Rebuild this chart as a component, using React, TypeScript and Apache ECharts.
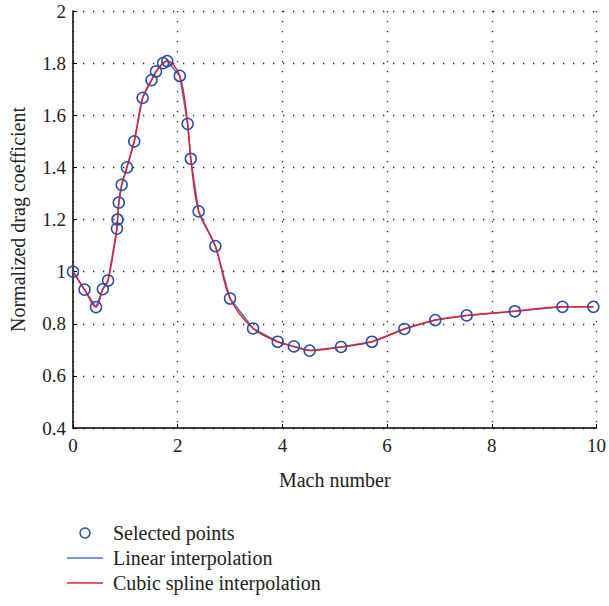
import React, { useEffect, useRef } from "react";
import * as echarts from "echarts";

const machNumbers = [
  0, 0.22, 0.44, 0.57, 0.67, 0.84, 0.85, 0.875, 0.93, 1.03, 1.17, 1.33, 1.5, 1.585,
  1.72, 1.8, 2.04, 2.19, 2.25, 2.4, 2.72, 3.0, 3.44, 3.91, 4.22, 4.52, 5.12, 5.71,
  6.33, 6.92, 7.52, 8.44, 9.35, 9.94,
];
const dragValues = [
  1.0, 0.931, 0.864, 0.933, 0.966, 1.165, 1.2, 1.265, 1.333, 1.4, 1.5, 1.667, 1.735, 1.768,
  1.8, 1.808, 1.751, 1.567, 1.433, 1.231, 1.098, 0.897, 0.782, 0.731, 0.713, 0.697, 0.711, 0.731,
  0.78, 0.814, 0.832, 0.848, 0.865, 0.865,
];
const xTicks = [0, 2, 4, 6, 8, 10];
const yTicks = [0.4, 0.6, 0.8, 1, 1.2, 1.4, 1.6, 1.8, 2];

const FONT = "'Liberation Serif', 'DejaVu Serif', serif";
const BLUE = "#2a4ea8";
const LINE_BLUE = "#4a70c4";
const RED = "#e3202b";

export default function App() {
  const ref = useRef<HTMLDivElement>(null);
  useEffect(() => {
    if (!ref.current) return;
    const chart = echarts.init(ref.current, null, { renderer: "svg" });
    const pts = machNumbers.map((x, i) => [x, dragValues[i]]);
    const dotted = { color: "#222", width: 1.3, type: [1.3, 8.7] as number[] };
    const lineIcon = "path://M0,0 L36,0 L36,1.6 L0,1.6 Z";
    chart.setOption({
      animation: false,
      backgroundColor: "#fff",
      grid: { left: 69, right: 9, top: 11, bottom: 178, containLabel: false },
      xAxis: {
        type: "value",
        min: xTicks[0],
        max: xTicks[xTicks.length - 1],
        interval: 2,
        name: "Mach number",
        nameLocation: "middle",
        nameGap: 42,
        nameTextStyle: { fontFamily: FONT, fontSize: 20, color: "#222" },
        axisLine: { show: true, lineStyle: { color: "#000", width: 1.5 } },
        axisTick: { show: true, inside: true, length: 4, lineStyle: { color: "#000" } },
        axisLabel: { fontFamily: FONT, fontSize: 19, color: "#222", margin: 8 },
        splitLine: { show: true, lineStyle: dotted },
      },
      yAxis: {
        type: "value",
        min: yTicks[0],
        max: yTicks[yTicks.length - 1],
        interval: 0.2,
        name: "Normalized drag coefficient",
        nameLocation: "middle",
        nameGap: 45,
        nameTextStyle: { fontFamily: FONT, fontSize: 20, color: "#222" },
        axisLine: { show: true, lineStyle: { color: "#000", width: 1.5 } },
        axisTick: { show: true, inside: true, length: 4, lineStyle: { color: "#000" } },
        axisLabel: {
          fontFamily: FONT,
          fontSize: 19,
          color: "#222",
          margin: 7,
          formatter: (v: number) => String(Math.round(v * 10) / 10),
        },
        splitLine: { show: true, lineStyle: dotted },
      },
      legend: {
        orient: "vertical",
        left: 62,
        top: 518,
        itemGap: 5,
        itemWidth: 36,
        itemHeight: 10,
        textStyle: { fontFamily: FONT, fontSize: 20, color: "#222", padding: [0, 0, 0, 5] },
        data: [
          {
            name: "Selected points",
            icon: "circle",
            itemStyle: { color: "rgba(0,0,0,0)", borderColor: BLUE, borderWidth: 1.5 },
          },
          { name: "Linear interpolation", icon: lineIcon, itemStyle: { color: LINE_BLUE } },
          { name: "Cubic spline interpolation", icon: lineIcon, itemStyle: { color: RED } },
        ],
      },
      series: [
        {
          name: "Linear interpolation",
          type: "line",
          data: pts,
          symbol: "none",
          lineStyle: { color: LINE_BLUE, width: 1.5 },
          itemStyle: { color: LINE_BLUE },
          z: 2,
        },
        {
          name: "Cubic spline interpolation",
          type: "line",
          data: pts,
          smooth: 0.35,
          symbol: "none",
          lineStyle: { color: RED, width: 1.5 },
          itemStyle: { color: RED },
          z: 3,
        },
        {
          name: "Selected points",
          type: "scatter",
          data: pts,
          symbol: "circle",
          symbolSize: 11,
          itemStyle: { color: "rgba(0,0,0,0)", borderColor: BLUE, borderWidth: 1.5, opacity: 1 },
          z: 4,
        },
      ],
    });
    return () => chart.dispose();
  }, []);
  return (
    <div
      ref={ref}
      style={{ position: "absolute", left: 0, top: 0, width: 609, height: 606 }}
    />
  );
}
